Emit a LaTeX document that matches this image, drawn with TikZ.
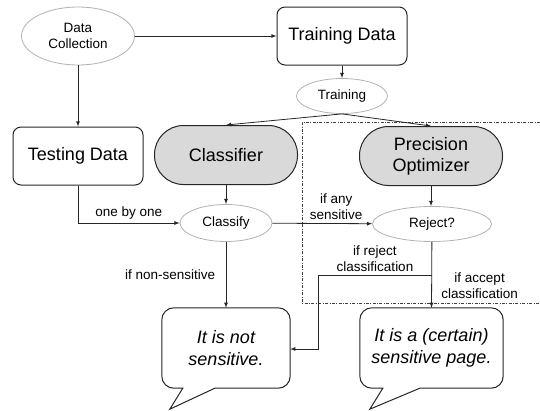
\documentclass[tikz,border=0pt]{standalone}
\usepackage{fontspec}
\setmainfont{Liberation Sans}
\usetikzlibrary{shapes.geometric,calc}

\begin{document}
\begin{tikzpicture}[x=1pt,y=-1pt,
    small/.style={font=\fontsize{13.5}{16}\selectfont, align=center},
    big/.style={font=\fontsize{18}{21}\selectfont, align=center},
    oval/.style={ellipse, draw=black!30, line width=0.8pt, inner sep=0pt, small},
    databox/.style={rectangle, rounded corners=8pt, draw=black!85, line width=1pt,
        minimum width=130pt, minimum height=58pt, big},
    pill/.style={rectangle, rounded corners=29pt, draw=black!85, fill=black!15, line width=1pt,
        minimum width=143pt, minimum height=59pt, big},
    answer/.style={font=\fontsize{18}{22}\selectfont\itshape, align=center, minimum height=80pt},
    flow/.style={-latex, line width=0.8pt, draw=black!85}]
    \useasboundingbox (0,0) rectangle (540,410);

    % boxes and ovals
    \node[oval, minimum width=113pt, minimum height=58pt] (coll) at (78,36) {Data\\Collection};
    \node[databox] (train) at (342,36) {Training Data};
    \node[oval, minimum width=91pt, minimum height=35pt] (trainop) at (342,96) {Training};
    \node[databox] (test) at (78,156) {Testing Data};
    \node[pill] (clf) at (226,155) {Classifier};
    \node[pill] (opt) at (431,156) {Precision\\Optimizer};
    \node[oval, minimum width=92pt, minimum height=37pt] (classify) at (226,223) {Classify};
    \node[oval, minimum width=119pt, minimum height=35pt] (reject) at (432,224) {Reject?};
    \node[answer, minimum width=128pt] (notsens) at (226,348) {It is not\\sensitive.};
    \node[answer, minimum width=143pt] (sens) at (431.5,348) {It is a (certain)\\sensitive page.};

    % speech bubbles
    \foreach \n/\a/\b/\c in {notsens/21/53/8, sens/23/60/10}
        \draw[line width=1pt, draw=black!85, rounded corners=12pt]
            ($(\n.south west)+(\a,0)$) -- (\n.south west) -- (\n.north west)
            -- (\n.north east) -- (\n.south east) [sharp corners]
            -- ($(\n.south west)+(\b,0)$) -- ($(\n.south west)+(\c,21)$) -- cycle;

    % optimizer region
    \draw[black!75, line width=0.8pt, dash pattern=on 3pt off 1.5pt on 0.8pt off 1.5pt]
        (540,122) -- (302,122) -- (302,303) -- (540,303);

    % connectors
    \coordinate (rejfork) at (432,275);
    \coordinate (rejdown) at (318,349);
    \draw[flow] (coll) -- (train);
    \draw[flow] (coll) -- (test);
    \draw[flow] (train) -- (trainop);
    \draw[flow] (trainop.south) -- (clf.north);
    \draw[flow] (trainop.south) -- (opt.north);
    \draw[flow] (test.south) |- node[small, above, pos=0.75] {one by one} (classify.west);
    \draw[flow] (clf) -- (classify);
    \draw[flow] (opt.south) -- (opt.south |- reject.north);
    \draw[flow] (classify) -- node[small, above, pos=0.64] {if any\\sensitive} (reject);
    \draw[flow] (classify) -- node[small, left=7pt] {if non-sensitive} (notsens.north);
    \draw[flow] (reject) -- node[small, right=6pt, pos=0.67] {if accept\\classification} (sens.north);
    \draw[flow] (rejfork) -| node[small, above, pos=0.25] {if reject\\classification} (rejdown)
        -- (rejdown -| notsens.east);
\end{tikzpicture}
\end{document}
